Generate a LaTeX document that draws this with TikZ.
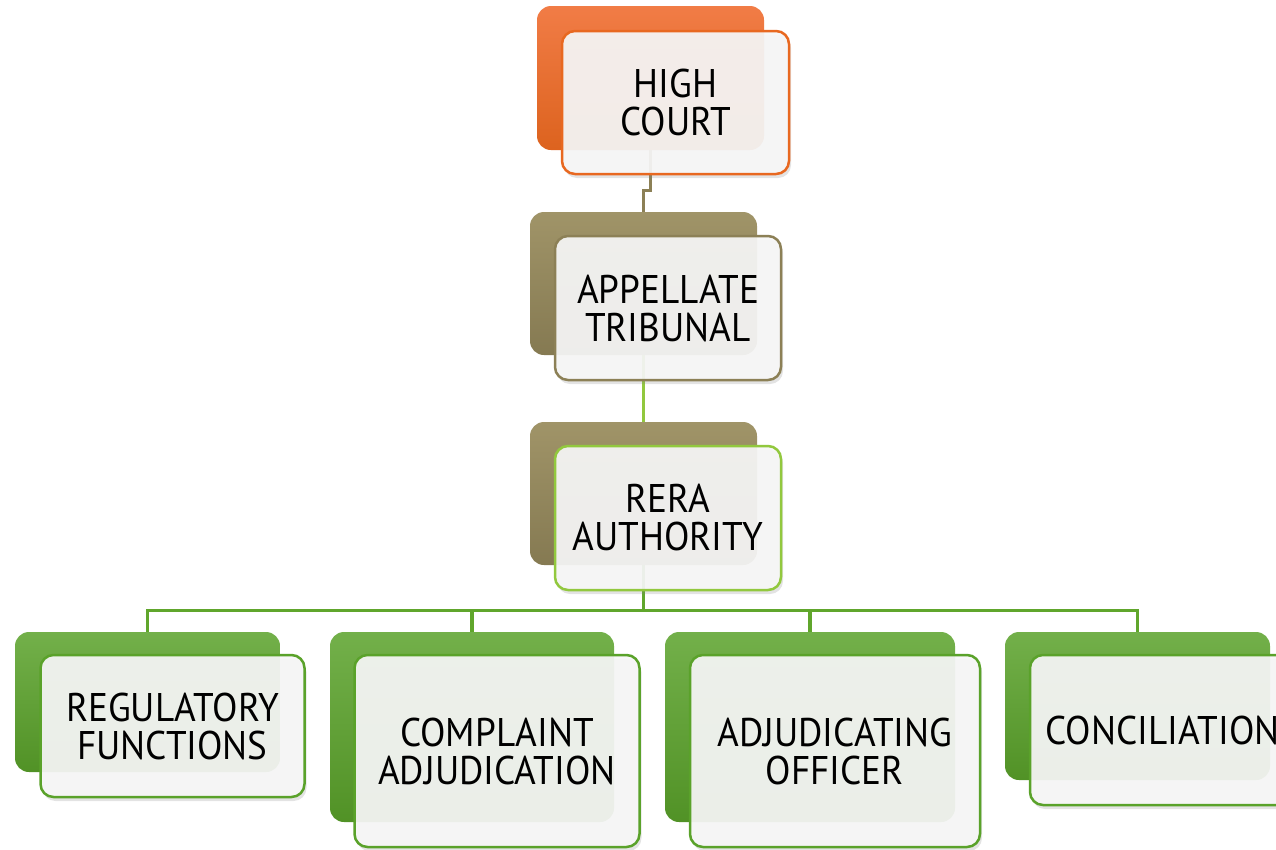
\documentclass[tikz,border=0pt]{standalone}
\usepackage{fontspec}
\setmainfont[FakeStretch=0.93]{PT Sans}
\usetikzlibrary{shadows}

\definecolor{hcorange}{RGB}{232,104,32}
\definecolor{hctop}{RGB}{241,124,70}
\definecolor{olive}{RGB}{140,128,86}
\definecolor{olivetop}{RGB}{160,148,104}
\definecolor{lime}{RGB}{146,200,62}
\definecolor{leaf}{RGB}{90,162,42}
\definecolor{paper}{RGB}{246,246,246}

\begin{document}
\begin{tikzpicture}[x=1pt, y=-1pt,
    back/.style={rounded corners=14pt, inner sep=0pt},
    front/.style={draw, line width=2.5pt, rounded corners=13pt, fill=paper, fill opacity=0.93,
        text opacity=1, align=center, inner sep=0pt,
        font=\fontsize{40}{38}\selectfont,
        drop shadow={opacity=0.22, shadow xshift=2pt, shadow yshift=-4pt}},
    link/.style={line width=3.2pt}]
    \clip (0,0) rectangle (1276,849);

    % back plates
    \node[back, minimum width=227pt, minimum height=144pt, top color=hctop, bottom color=hcorange!95!black] (hc) at (650.5,78) {};
    \node[back, minimum width=227pt, minimum height=143pt, top color=olivetop, bottom color=olive!95!black] (at) at (643.5,283.5) {};
    \node[back, minimum width=227pt, minimum height=143pt, top color=olivetop, bottom color=olive!95!black] (rera) at (643.5,493.5) {};
    \node[back, minimum width=265pt, minimum height=140pt, top color=leaf!85!white, bottom color=leaf!90!black] (reg) at (147.5,702) {};
    \node[back, minimum width=284pt, minimum height=190pt, top color=leaf!85!white, bottom color=leaf!90!black] (comp) at (472,727) {};
    \node[back, minimum width=290pt, minimum height=190pt, top color=leaf!85!white, bottom color=leaf!90!black] (adj) at (810,727) {};
    \node[back, minimum width=265pt, minimum height=148pt, top color=leaf!85!white, bottom color=leaf!90!black] (conc) at (1137.5,706) {};

    % connectors
    \draw[link, olive] (hc.south) -- ++(0,40) -| (at.north);
    \draw[link, lime] (at.south) -- (rera.north);
    \draw[link, leaf!90!lime] (rera.south) -- ++(0,45) -| (reg.north);
    \draw[link, leaf!90!lime] (rera.south) -- ++(0,45) -| (comp.north);
    \draw[link, leaf!90!lime] (rera.south) -- ++(0,45) -| (adj.north);
    \draw[link, leaf!90!lime] (rera.south) -- ++(0,45) -| (conc.north);

    % front cards
    \node[front, draw=hcorange, minimum width=227pt, minimum height=143pt] (hcf) at ([shift={(25,24.5)}]hc.center) {HIGH\\COURT};
    \node[front, draw=olive, minimum width=226pt, minimum height=144pt] (atf) at ([shift={(24.5,24.5)}]at.center) {APPELLATE\\TRIBUNAL};
    \node[front, draw=lime, minimum width=226pt, minimum height=144pt] (reraf) at ([shift={(24.5,24.5)}]rera.center) {RERA\\AUTHORITY};
    \node[front, draw=leaf, minimum width=264pt, minimum height=142pt] (regf) at ([shift={(25,24)}]reg.center) {REGULATORY\\FUNCTIONS};
    \node[front, draw=leaf, minimum width=285pt, minimum height=192pt] (compf) at ([shift={(25,24)}]comp.center) {COMPLAINT\\ADJUDICATION};
    \node[front, draw=leaf, minimum width=290pt, minimum height=192pt] (adjf) at ([shift={(25,24)}]adj.center) {ADJUDICATING\\OFFICER};
    \node[front, draw=leaf, minimum width=265pt, minimum height=150pt] (concf) at ([shift={(25,24)}]conc.center) {CONCILIATION};
\end{tikzpicture}
\end{document}
